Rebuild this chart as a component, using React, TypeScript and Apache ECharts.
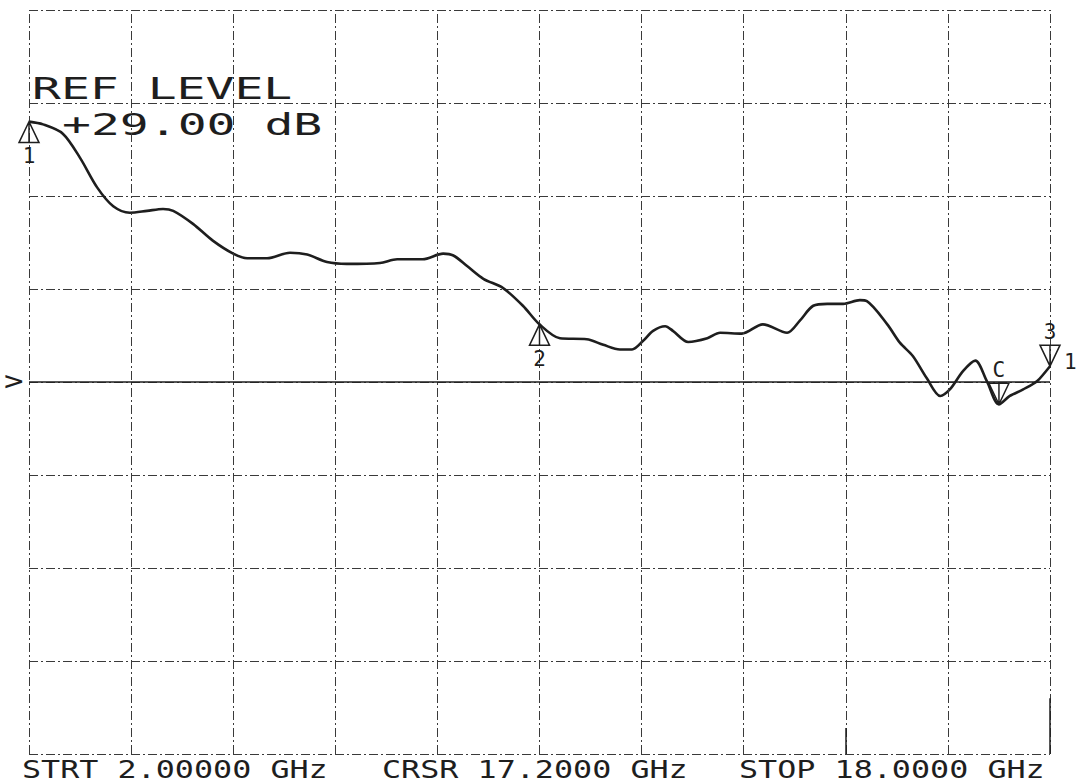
import React, { useEffect, useRef } from "react";
import * as echarts from "echarts";

// Trace (channel 1): frequency in GHz, level in dB (ref level +29 dB at centre line)
const FREQ_GHZ = [2.0, 2.22, 2.53, 2.80, 3.07, 3.32, 3.58, 3.85, 4.10, 4.26, 4.57, 4.88, 5.20, 5.42, 5.73, 6.09, 6.36, 6.67, 6.98, 7.50, 7.77, 8.17, 8.49, 8.65, 8.86, 9.12, 9.43, 9.74, 10.0, 10.32, 10.74, 11.0, 11.26, 11.45, 11.62, 11.78, 11.97, 12.09, 12.33, 12.63, 12.83, 13.17, 13.50, 13.88, 14.08, 14.29, 14.51, 14.76, 15.02, 15.13, 15.45, 15.65, 15.85, 16.07, 16.28, 16.43, 16.64, 16.83, 17.01, 17.2, 17.37, 17.58, 17.80, 18.0];
const LEVEL_DB = [31.80, 31.77, 31.67, 31.41, 31.09, 30.89, 30.82, 30.84, 30.86, 30.84, 30.70, 30.52, 30.38, 30.33, 30.33, 30.39, 30.37, 30.29, 30.27, 30.28, 30.32, 30.32, 30.38, 30.36, 30.25, 30.11, 30.01, 29.82, 29.62, 29.47, 29.46, 29.40, 29.35, 29.35, 29.44, 29.55, 29.60, 29.55, 29.43, 29.47, 29.53, 29.52, 29.62, 29.53, 29.66, 29.82, 29.84, 29.84, 29.88, 29.87, 29.62, 29.42, 29.28, 29.04, 28.85, 28.92, 29.12, 29.23, 29.01, 28.76, 28.85, 28.92, 29.01, 29.17];

// Axes
const START_GHZ = 2;
const STOP_GHZ = 18;
const GRID_FREQS = [2, 3.6, 5.2, 6.8, 8.4, 10, 11.6, 13.2, 14.8, 16.4, 18];
const DB_MIN = 25;
const DB_MAX = 33;
const DB_PER_DIV = 1;
const REF_LEVEL_DB = 29;

// Markers
const MARKER_LABELS = ["1", "2", "C", "3"];
const MARKER_FREQS = [2, 10, 17.2, 18];
const MARKER_DIRS = ["up", "up", "down", "down"];

// Texts
const HEADER_TEXTS = ["REF LEVEL", "+29.00 dB"];
const FOOTER_TEXTS = ["STRT 2.00000 GHz", "CRSR 17.2000 GHz", "STOP 18.0000 GHz"];

const INK = "#1e1e1e";
const FONT = '"DejaVu Sans Mono", monospace';
const UP_TRI = "path://M10,0 L20,20 L0,20 Z M10,0 L10,20";
const DOWN_TRI = "path://M0,0 L20,0 L10,20 Z M10,0 L10,20";

export default function App() {
  const ref = useRef<HTMLDivElement>(null);

  useEffect(() => {
    document.body.style.margin = "0";
    const chart = echarts.init(ref.current!, undefined, { renderer: "svg" });

    const trace = FREQ_GHZ.map((f, i) => [f, LEVEL_DB[i]]);

    const markPointData = MARKER_LABELS.map((lab, i) => {
      const idx = FREQ_GHZ.indexOf(MARKER_FREQS[i]);
      const up = MARKER_DIRS[i] === "up";
      return {
        coord: [MARKER_FREQS[i], LEVEL_DB[idx]],
        symbol: up ? UP_TRI : DOWN_TRI,
        symbolSize: [20, 21],
        symbolOffset: [0, up ? 10.5 : -10.5],
        itemStyle: { color: "rgba(0,0,0,0)", borderColor: INK, borderWidth: 1.5 },
        label: {
          show: true,
          formatter: lab,
          position: up ? "bottom" : "top",
          distance: 2,
          color: INK,
          fontFamily: FONT,
          fontSize: 21,
        },
      };
    });

    const gridLineStyle = { color: "#3a3a3a", width: 1, type: [9, 3, 2, 3] as any };

    chart.setOption({
      animation: false,
      backgroundColor: "#ffffff",
      grid: { left: 29, right: 30, top: 10, bottom: 30, show: false },
      xAxis: {
        type: "value",
        min: START_GHZ,
        max: STOP_GHZ,
        axisLine: { show: false },
        axisTick: { show: false },
        axisLabel: { show: false },
        splitLine: { show: false },
      },
      yAxis: {
        type: "value",
        min: DB_MIN,
        max: DB_MAX,
        interval: DB_PER_DIV,
        axisLine: { show: false },
        axisTick: { show: false },
        axisLabel: { show: false },
        splitLine: { show: true, showMinLine: true, showMaxLine: true, lineStyle: gridLineStyle },
      },
      series: [
        {
          type: "line",
          data: [],
          silent: true,
          z: 1,
          markLine: {
            silent: true,
            symbol: ["none", "none"],
            label: { show: false },
            lineStyle: gridLineStyle,
            data: [
              ...GRID_FREQS.map((f) => ({ xAxis: f })),
              { yAxis: REF_LEVEL_DB, lineStyle: { color: INK, width: 1.5, type: "solid" } },
              [
                { coord: [GRID_FREQS[8], DB_MIN], lineStyle: { color: INK, width: 1.5, type: "solid" } },
                { coord: [GRID_FREQS[8], DB_MIN + 0.28] },
              ],
              [
                { coord: [STOP_GHZ, DB_MIN], lineStyle: { color: INK, width: 1.5, type: "solid" } },
                { coord: [STOP_GHZ, DB_MIN + 0.6] },
              ],
            ],
          },
        },
        {
          type: "line",
          data: trace,
          smooth: 0.3,
          showSymbol: false,
          z: 3,
          lineStyle: { color: INK, width: 2.6 },
          markPoint: { data: markPointData },
        },
      ],
      graphic: [
        {
          type: "text",
          x: 32,
          y: 88,
          scaleX: 1.55,
          style: { text: HEADER_TEXTS[0], fontSize: 31, fontFamily: FONT, fill: INK, align: "left", verticalAlign: "middle" },
        },
        {
          type: "text",
          x: 62,
          y: 124,
          scaleX: 1.55,
          style: { text: HEADER_TEXTS[1], fontSize: 31, fontFamily: FONT, fill: INK, align: "left", verticalAlign: "middle" },
        },
        ...FOOTER_TEXTS.map((t, i) => ({
          type: "text",
          x: [22, 382, 739][i],
          y: 769,
          scaleX: 1.27,
          style: { text: t, fontSize: 25, fontFamily: FONT, fill: INK, align: "left", verticalAlign: "middle" },
        })),
        {
          type: "text",
          x: 4,
          y: 380,
          scaleX: 1.2,
          style: { text: ">", fontSize: 27, fontFamily: FONT, fill: INK, align: "left", verticalAlign: "middle" },
        },
        {
          type: "text",
          x: 1064,
          y: 362,
          style: { text: "1", fontSize: 21, fontFamily: FONT, fill: INK, align: "left", verticalAlign: "middle" },
        },
      ],
    });

    return () => chart.dispose();
  }, []);

  return <div ref={ref} style={{ width: 1080, height: 784, position: "absolute", left: 0, top: 0 }} />;
}
